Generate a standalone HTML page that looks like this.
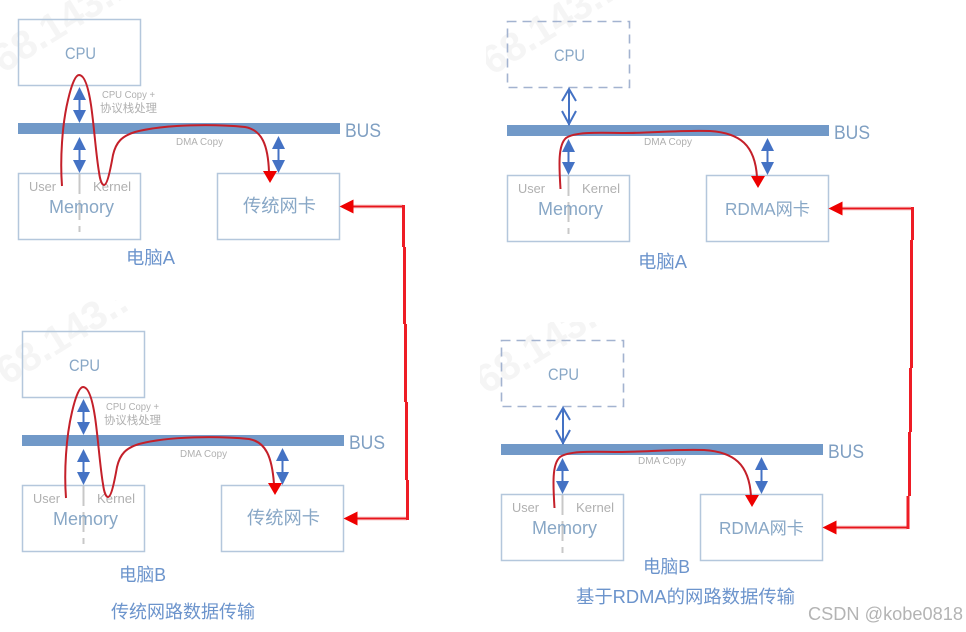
<!DOCTYPE html>
<html><head><meta charset="utf-8"><style>
html,body{margin:0;padding:0;background:#fff;width:966px;height:632px;overflow:hidden}
svg{display:block}
text{font-family:"Liberation Sans","Noto Sans CJK SC",sans-serif}
.wm{fill:#f5f5f5;font-size:40px;font-weight:bold}
.box{fill:none;stroke:#b4c7dc;stroke-width:1.5}
.dash{fill:none;stroke:#a3b3d0;stroke-width:1.6;stroke-dasharray:9 6}
.bus{fill:#7199c8}
.bt{fill:#7f9fc2;font-size:19px}
.lbl{fill:#88a7c6}
.gr{fill:#b0b0b0}
.v{stroke:#c8c8c8;stroke-width:2;stroke-dasharray:20 6;fill:none}
.ar{stroke:#4472c4;stroke-width:2;fill:none}
.hd{fill:#4472c4}
.cv{fill:none;stroke:#c4202a;stroke-width:2}
.rh{fill:#ee0000}
.cap{fill:#6c94cc}
.rl{fill:none;stroke:#ee1c25;stroke-width:3}
.rh2{fill:none;stroke:#f3a0a0;stroke-width:3.500}
.rc{fill:none;stroke:#e8141c;stroke-width:1.600}
</style></head><body>
<svg width="966" height="632" viewBox="0 0 966 632" xmlns="http://www.w3.org/2000/svg">
<defs>
<clipPath id="c1"><rect x="0" y="0" width="300" height="290"/></clipPath>
<clipPath id="c2"><rect x="0" y="300" width="300" height="200"/></clipPath>
<clipPath id="c3"><rect x="486" y="0" width="300" height="290"/></clipPath>
<clipPath id="c4"><rect x="480" y="322" width="300" height="200"/></clipPath>
</defs>
<rect width="966" height="632" fill="#fff"/>
<g clip-path="url(#c1)"><text class="wm" transform="translate(3,74) rotate(-32)">68.143.:</text></g>
<g clip-path="url(#c2)"><text class="wm" transform="translate(7,386) rotate(-32)">68.143.:</text></g>
<g clip-path="url(#c3)"><text class="wm" transform="translate(492,76) rotate(-32)">68.143.:</text></g>
<g clip-path="url(#c4)"><text class="wm" transform="translate(486,395) rotate(-32)">68.143.:</text></g>

<g>
<rect class="box" x="18.500" y="19.500" width="122" height="66"/>
<rect class="box" x="18.500" y="173.500" width="122" height="66"/>
<rect class="box" x="217.500" y="173.500" width="122" height="66"/>
<rect class="bus" x="18" y="123" width="322" height="11"/>
<path class="v" d="M79.500 174V232"/>
<path class="ar" d="M79.500 95V115M79.500 145V165M278.500 144V165"/>
<path class="hd" d="M79.500 87l6.500 13h-13zM79.500 123l6.500-13h-13zM79.500 137l6.500 13h-13zM79.500 173l6.500-13h-13zM278.500 136l6.500 13h-13zM278.500 173l6.500-13h-13z"/>
<text class="lbl" x="65" y="59" font-size="17" textLength="31" lengthAdjust="spacingAndGlyphs">CPU</text>
<text class="gr" x="102" y="98" font-size="10" textLength="53" lengthAdjust="spacingAndGlyphs">CPU Copy +</text>
<text class="gr" x="100" y="112" font-size="11.500" textLength="57" lengthAdjust="spacingAndGlyphs">协议栈处理</text>
<text class="bt" x="345" y="137" textLength="36" lengthAdjust="spacingAndGlyphs">BUS</text>
<text class="gr" x="176" y="145" font-size="10" textLength="47" lengthAdjust="spacingAndGlyphs">DMA Copy</text>
<text class="gr" x="29" y="191" font-size="13" textLength="27" lengthAdjust="spacingAndGlyphs">User</text>
<text class="gr" x="93" y="191" font-size="13" textLength="38" lengthAdjust="spacingAndGlyphs">Kernel</text>
<text class="lbl" x="49" y="213" font-size="18.500" textLength="65" lengthAdjust="spacingAndGlyphs">Memory</text>
<text class="lbl" x="243" y="212" font-size="18" textLength="73" lengthAdjust="spacingAndGlyphs">传统网卡</text>
<path class="cv" d="M62 186C60 160 62 125 68 100C71 87 75 75 79 75C84 75 88 85 91 105C94 125 96 155 99 172C100 180 102 185 104 185C107 185 110 172 113 155C116 142 122 136 135 132C165 124 215 124 245 127C262 130 268 145 269 172"/>
<path class="rh" d="M263 171h14l-7 12z"/>
</g>

<g>
<rect class="box" x="22.500" y="331.500" width="122" height="66"/>
<rect class="box" x="22.500" y="485.500" width="122" height="66"/>
<rect class="box" x="221.500" y="485.500" width="122" height="66"/>
<rect class="bus" x="22" y="435" width="322" height="11"/>
<path class="v" d="M83.500 486V544"/>
<path class="ar" d="M83.500 407V427M83.500 457V477M282.500 456V477"/>
<path class="hd" d="M83.500 399l6.500 13h-13zM83.500 435l6.500-13h-13zM83.500 449l6.500 13h-13zM83.500 485l6.500-13h-13zM282.500 448l6.500 13h-13zM282.500 485l6.500-13h-13z"/>
<text class="lbl" x="69" y="371" font-size="17" textLength="31" lengthAdjust="spacingAndGlyphs">CPU</text>
<text class="gr" x="106" y="410" font-size="10" textLength="53" lengthAdjust="spacingAndGlyphs">CPU Copy +</text>
<text class="gr" x="104" y="424" font-size="11.500" textLength="57" lengthAdjust="spacingAndGlyphs">协议栈处理</text>
<text class="bt" x="349" y="449" textLength="36" lengthAdjust="spacingAndGlyphs">BUS</text>
<text class="gr" x="180" y="457" font-size="10" textLength="47" lengthAdjust="spacingAndGlyphs">DMA Copy</text>
<text class="gr" x="33" y="503" font-size="13" textLength="27" lengthAdjust="spacingAndGlyphs">User</text>
<text class="gr" x="97" y="503" font-size="13" textLength="38" lengthAdjust="spacingAndGlyphs">Kernel</text>
<text class="lbl" x="53" y="525" font-size="18.500" textLength="65" lengthAdjust="spacingAndGlyphs">Memory</text>
<text class="lbl" x="247" y="524" font-size="18" textLength="73" lengthAdjust="spacingAndGlyphs">传统网卡</text>
<path class="cv" d="M66 498C64 472 66 437 72 412C75 399 79 387 83 387C88 387 92 397 95 417C98 437 100 467 103 484C104 492 106 497 108 497C111 497 114 484 117 467C120 454 126 448 139 444C169 436 219 436 249 439C266 442 272 457 274 484"/>
<path class="rh" d="M268 483h14l-7 12z"/>
</g>

<g>
<rect class="dash" x="507.500" y="21.500" width="122" height="66"/>
<rect class="box" x="507.500" y="175.500" width="122" height="66"/>
<rect class="box" x="706.500" y="175.500" width="122" height="66"/>
<rect class="bus" x="507" y="125" width="322" height="11"/>
<path class="v" d="M568.500 176V234"/>
<path class="ar" d="M569 89V125"/>
<path class="ar" d="M562 101L569 89L576 101M562 111L569 124L576 111"/>
<path class="ar" d="M568.500 147V167M767.500 146V167"/>
<path class="hd" d="M568.500 139l6.500 13h-13zM568.500 175l6.500-13h-13zM767.500 138l6.500 13h-13zM767.500 175l6.500-13h-13z"/>
<text class="lbl" x="554" y="61" font-size="17" textLength="31" lengthAdjust="spacingAndGlyphs">CPU</text>
<text class="bt" x="834" y="139" textLength="36" lengthAdjust="spacingAndGlyphs">BUS</text>
<text class="gr" x="644" y="145" font-size="10" textLength="48" lengthAdjust="spacingAndGlyphs">DMA Copy</text>
<text class="gr" x="518" y="193" font-size="13" textLength="27" lengthAdjust="spacingAndGlyphs">User</text>
<text class="gr" x="582" y="193" font-size="13" textLength="38" lengthAdjust="spacingAndGlyphs">Kernel</text>
<text class="lbl" x="538" y="215" font-size="18.500" textLength="65" lengthAdjust="spacingAndGlyphs">Memory</text>
<text class="lbl" x="725" y="215" font-size="17.300" textLength="85" lengthAdjust="spacingAndGlyphs">RDMA网卡</text>
<path class="cv" d="M560.500 189C559 165 558 145 566 138C576 131 605 133 625 133C650 133 680 130 710 131C740 133 755 145 757 177"/>
<path class="rh" d="M751 176h14l-7 12z"/>
</g>

<g>
<rect class="dash" x="501.500" y="340.500" width="122" height="66"/>
<rect class="box" x="501.500" y="494.500" width="122" height="66"/>
<rect class="box" x="700.500" y="494.500" width="122" height="66"/>
<rect class="bus" x="501" y="444" width="322" height="11"/>
<path class="v" d="M562.500 495V553"/>
<path class="ar" d="M563 408V444"/>
<path class="ar" d="M556 420L563 408L570 420M556 430L563 443L570 430"/>
<path class="ar" d="M562.500 466V486M761.500 465V486"/>
<path class="hd" d="M562.500 458l6.500 13h-13zM562.500 494l6.500-13h-13zM761.500 457l6.500 13h-13zM761.500 494l6.500-13h-13z"/>
<text class="lbl" x="548" y="380" font-size="17" textLength="31" lengthAdjust="spacingAndGlyphs">CPU</text>
<text class="bt" x="828" y="458" textLength="36" lengthAdjust="spacingAndGlyphs">BUS</text>
<text class="gr" x="638" y="464" font-size="10" textLength="48" lengthAdjust="spacingAndGlyphs">DMA Copy</text>
<text class="gr" x="512" y="512" font-size="13" textLength="27" lengthAdjust="spacingAndGlyphs">User</text>
<text class="gr" x="576" y="512" font-size="13" textLength="38" lengthAdjust="spacingAndGlyphs">Kernel</text>
<text class="lbl" x="532" y="534" font-size="18.500" textLength="65" lengthAdjust="spacingAndGlyphs">Memory</text>
<text class="lbl" x="719" y="534" font-size="17.300" textLength="85" lengthAdjust="spacingAndGlyphs">RDMA网卡</text>
<path class="cv" d="M554.500 508C553 484 552 464 560 457C570 450 599 452 619 452C644 452 674 449 704 450C734 452 749 464 751 496"/>
<path class="rh" d="M745 495h14l-7 12z"/>
</g>

<path class="rh2" d="M351 206.500H403M355 518.500H407M840 208.500H911M834 527.500H907"/>
<path class="rc" d="M351 206.500H403M355 518.500H407M840 208.500H911M834 527.500H907"/>
<path class="rl" d="M403.500 205V247M404.500 247V324M405.500 324V402M406.500 402V480M407.500 480V520"/>
<path class="rl" d="M912.500 207V240M911.500 240V368M910.500 368V432M909.500 432V496M908 496V529"/>
<path class="rh" d="M339.500 206.500l14-7v14zM343.500 518.500l14-7v14zM828.500 208.500l14-7v14zM822.500 527.500l14-7v14z"/>

<text class="cap" x="126" y="264" font-size="18" textLength="49" lengthAdjust="spacingAndGlyphs">电脑A</text>
<text class="cap" x="119" y="581" font-size="18" textLength="47" lengthAdjust="spacingAndGlyphs">电脑B</text>
<text class="cap" x="111" y="618" font-size="18" textLength="144" lengthAdjust="spacingAndGlyphs">传统网路数据传输</text>
<text class="cap" x="638" y="268" font-size="18" textLength="49" lengthAdjust="spacingAndGlyphs">电脑A</text>
<text class="cap" x="643" y="573" font-size="18" textLength="47" lengthAdjust="spacingAndGlyphs">电脑B</text>
<text class="cap" x="576" y="603" font-size="18.200" textLength="219" lengthAdjust="spacingAndGlyphs">基于RDMA的网路数据传输</text>
<text x="808" y="620" font-size="18" fill="#b4b4b4" textLength="155" lengthAdjust="spacingAndGlyphs">CSDN @kobe0818</text>
</svg>
</body></html>
